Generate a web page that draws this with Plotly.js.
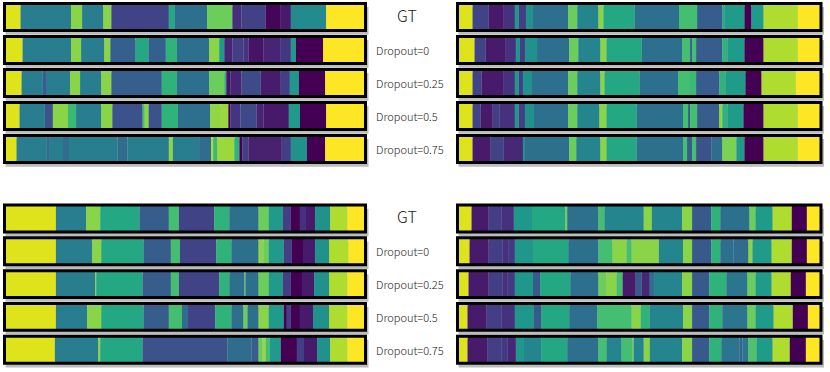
<!DOCTYPE html>
<html>
<head>
<meta charset="utf-8">
<script src="https://cdn.plot.ly/plotly-3.0.1.min.js"></script>
<style>
  html, body { margin: 0; padding: 0; background: #fff; }
  #chart { width: 830px; height: 372px; }
</style>
</head>
<body>
<div id="chart"></div>
<script>
var W = 830, H = 372;

var rowNames = ['GT', 'Dropout=0', 'Dropout=0.25', 'Dropout=0.5', 'Dropout=0.75'];

// segment boundaries (frames) and class colour index (0..20 on viridis) per strip
var tlEdges = [
  [0,16,66,77,98,106,163,169,201,226,235,259,274,284,319,358],
  [0,18,66,76,99,105,130,143,160,171,203,213,218,226,237,242,257,274,284,289,316,358],
  [0,17,38,42,65,75,96,106,156,171,203,218,220,224,235,254,274,283,292,318,358],
  [0,15,40,48,63,71,96,107,137,139,143,156,172,204,214,222,224,234,250,257,282,293,319,358],
  [0,12,42,45,58,64,112,122,163,167,193,205,207,211,228,233,236,242,275,284,300,318,358]
];
var tlLabels = [
  [19,8.4,16.5,8.4,16.5,4,12,7.4,15.5,2.6,3.8,0.3,1.4,9.5,20],
  [19,8.4,16.5,8.4,16.5,6,12,6,13,7.4,16.5,11,2,3.6,3,1,2,3.2,11,0,20],
  [19,8.4,6,8.4,16.5,8.4,16.5,6,13,7.4,15.5,13,1,2,4.6,1.5,3.6,10.5,0,20],
  [19,8.4,5,16.5,13.5,8.4,16.5,5,14,16.5,5,13,7.4,16.7,17,0,3,4.4,2,1.3,10.8,0,20],
  [19,8.4,7,8.4,7,8.4,7,8.4,16.5,8.4,7,17.5,13.5,17,13,0,3.6,1.8,3.6,10,0,20]
];

var trEdges = [
  [0,15,31,46,57,61,68,75,110,119,140,145,176,220,238,263,265,285,292,304,338,361],
  [0,17,28,48,58,62,67,79,111,120,142,148,183,223,231,233,237,263,268,285,304,338,361],
  [0,15,24,46,57,61,65,74,110,119,142,146,181,219,230,237,260,266,286,302,336,361],
  [0,15,23,35,42,57,61,67,76,110,119,141,148,178,224,229,231,238,260,263,268,284,304,338,361],
  [0,15,33,46,65,67,111,118,142,148,178,224,228,233,237,252,263,277,285,304,338,361]
];
var trLabels = [
  [19,4,1.4,2.8,10.5,3.6,10,7.4,15.5,9,16.5,12,7.4,14,5.8,12,11,0,11,17.6,20],
  [19,4,1.4,2.8,10.5,3.6,10,7.4,15.5,9,16.5,12,7.4,14,6,14,5.8,13,11,0,17.6,20],
  [19,4,1.4,2.8,10.5,3.6,10,7.4,15.5,9,16.5,12,7.4,14,13.6,5.8,13,11,0,17.6,20],
  [19,4,1.4,3.6,2.8,10.5,3.6,10,7.4,15.5,9,16.5,12,7.4,14,5.8,14,5.8,16.5,13,11,0,17.6,20],
  [19,1.4,4,2.2,10,7.4,15.5,9,16.5,12,7.4,14,5.8,14,5,7,16,11,0,17.6,20]
];

var blEdges = [
  [0,51,81,95,134,163,173,208,223,252,262,276,284,293,299,308,323,340,358],
  [0,51,87,96,138,165,174,210,225,252,257,262,277,285,296,308,322,341,358],
  [0,51,90,91,137,165,173,213,223,238,239,252,262,276,284,295,307,322,340,358],
  [0,51,82,96,138,163,176,182,209,225,237,241,252,262,277,280,284,293,306,322,340,358],
  [0,50,93,95,137,221,245,252,256,259,263,274,290,297,310,323,340,358]
];
var blLabels = [
  [19,8.4,16.5,12,5.8,14,4,13,7.4,15.5,10.8,3.6,0,2.8,1.4,10,17.6,20],
  [19,8.4,16.5,12,5.8,14,4,13,7.4,16.5,15.5,10.8,3.6,0,1.4,10,17.6,20],
  [19,8.4,16.5,12,5.8,14,4,13,7.4,15.5,7.4,15.5,10.8,3.6,0,1.4,10,17.6,20],
  [19,8.4,16.5,12,5.8,14,7,4,13,7.4,15.5,7.4,16.5,10.8,0,3.6,0,1.4,10,17.6,20],
  [19,8.4,16.5,12,5,7,5.8,15.5,17,14,10.8,0,3.6,1.4,10,17.6,20]
];

var brEdges = [
  [0,14,31,44,56,74,107,109,140,146,185,193,223,233,252,261,290,296,313,332,347,361],
  [0,12,31,45,51,57,75,110,140,154,168,173,200,224,233,252,261,274,289,293,312,332,347,361],
  [0,11,31,45,50,57,75,82,112,140,148,158,164,177,183,191,196,223,233,250,267,288,296,312,331,346,361],
  [0,10,29,44,57,76,83,111,139,173,182,191,224,233,250,263,288,296,314,333,348,361],
  [0,10,30,44,50,58,66,83,109,140,148,163,174,175,185,191,223,233,250,262,280,283,289,297,313,330,346,361]
];
var brLabels = [
  [19,1.4,3.6,2.8,10.5,12,15.5,7.4,14,9,16.5,9,16.5,5.5,13,7.4,15.5,11,17.6,0,20],
  [19,1.4,3.6,2.8,3.4,10.5,12,7.4,14,16.5,14,16.5,9,16.5,5.5,13,7.4,7,16.5,11,17.6,0,20],
  [19,1.4,3.6,2.8,3.4,10.5,5.5,12,7.4,15.5,16.5,14,1.4,5.5,2.2,7.4,9,16.5,5.5,13,7.8,15.5,11,17.6,0,20],
  [19,1.4,3.6,2.8,10.5,5.5,12,7.4,14,16.5,13,9,16.5,5.5,13,7.8,15.5,11,17.6,0,20],
  [19,1.4,3.6,3.4,2.2,10.5,9,12,7.4,14,9,14,16.5,9,16.5,9,16.5,5.5,13,7.8,6.5,7.8,14.5,11,17.6,0,20]
];

// panel placement (pixels)
var panels = [
  {edges: tlEdges, labels: tlLabels, pathX: [4.5, 365.5], rowTop: 17,    pitch: 33,   names: true},
  {edges: trEdges, labels: trLabels, pathX: [457.5, 821],  rowTop: 17,    pitch: 33,   names: false},
  {edges: blEdges, labels: blLabels, pathX: [4.5, 365.5], rowTop: 218.5, pitch: 32.8, names: true},
  {edges: brEdges, labels: brLabels, pathX: [457.5, 821],  rowTop: 218.5, pitch: 32.8, names: false}
];

var halfH = 0.41;
var padL = 3, padR = 5, yLo = -0.5, yHi = 4.6;

var data = [];
var shapes = [];
var annotations = [];
var layout = {
  width: W, height: H,
  margin: {l: 0, r: 0, t: 0, b: 0},
  paper_bgcolor: '#fff', plot_bgcolor: 'rgba(0,0,0,0)',
  barmode: 'overlay',
  showlegend: false,
  font: {family: '"Noto Sans CJK SC", "Noto Sans", sans-serif', color: '#222'}
};

panels.forEach(function (p, i) {
  var n = i + 1;
  var xa = n === 1 ? 'x' : 'x' + n;
  var ya = n === 1 ? 'y' : 'y' + n;
  var L = p.edges[0][p.edges[0].length - 1];
  var s = (p.pathX[1] - p.pathX[0]) / L;

  layout['xaxis' + (n === 1 ? '' : n)] = {
    domain: [(p.pathX[0] - padL * s) / W, (p.pathX[1] + padR * s) / W],
    range: [-padL, L + padR], visible: false, fixedrange: true, anchor: ya
  };
  var topPx = p.rowTop + yLo * p.pitch;
  var botPx = p.rowTop + yHi * p.pitch;
  layout['yaxis' + (n === 1 ? '' : n)] = {
    domain: [1 - botPx / H, 1 - topPx / H],
    range: [yHi, yLo], visible: false, fixedrange: true, anchor: xa
  };

  p.edges.forEach(function (e, r) {
    var lab = p.labels[r];
    data.push({
      type: 'bar', orientation: 'h', xaxis: xa, yaxis: ya,
      y: lab.map(function () { return r; }),
      base: e.slice(0, -1),
      x: e.slice(1).map(function (v, k) { return v - e[k]; }),
      width: halfH * 2,
      marker: {color: lab, colorscale: 'Viridis', cmin: 0, cmax: 20, line: {width: 0}},
      hoverinfo: 'skip'
    });
    // soft drop shadow
    shapes.push({type: 'rect', xref: xa, yref: ya, layer: 'below',
      x0: 1, x1: L + 3, y0: r - 0.3, y1: r + 0.54,
      fillcolor: '#bcbcbc', line: {width: 0}});
    // black frame
    shapes.push({type: 'rect', xref: xa, yref: ya, layer: 'above',
      x0: 0, x1: L, y0: r - halfH, y1: r + halfH,
      line: {color: '#000', width: 3}});
  });

  if (p.names) {
    rowNames.forEach(function (t, r) {
      annotations.push({
        xref: 'paper', yref: ya,
        x: r === 0 ? 407 / W : 374 / W,
        xanchor: r === 0 ? 'center' : 'left',
        y: r, yanchor: 'middle', yshift: r === 0 ? 2 : 0,
        text: t, showarrow: false,
        font: {size: r === 0 ? 16 : 11, color: '#222', weight: 300}
      });
    });
  }
});

layout.shapes = shapes;
layout.annotations = annotations;

Plotly.newPlot('chart', data, layout, {displayModeBar: false, staticPlot: true});
</script>
</body>
</html>
